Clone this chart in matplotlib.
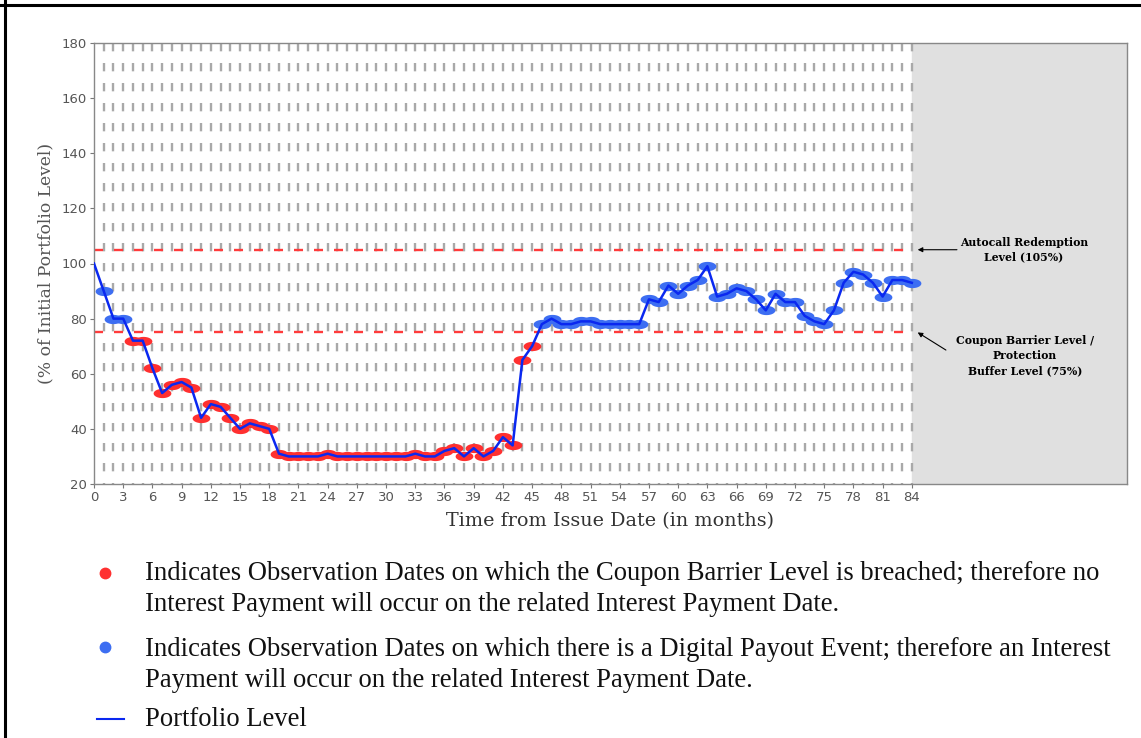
import numpy as np
import matplotlib
matplotlib.use('Agg')
import matplotlib.pyplot as plt
from matplotlib.path import Path
from matplotlib.lines import Line2D

# monthly portfolio level (% of initial), months 0..84
months = list(range(0, 85))
level = [100, 90, 80, 80, 72, 72, 62, 53, 56, 57, 55, 44, 49, 48, 44, 40, 42, 41, 40, 31,
         30, 30, 30, 30, 31, 30, 30, 30, 30, 30, 30, 30, 30, 31, 30, 30, 32, 33, 30, 33,
         30, 32, 37, 34, 65, 70, 78, 80, 78, 78, 79, 79, 78, 78, 78, 78, 78, 87, 86, 92,
         89, 92, 94, 99, 88, 89, 91, 90, 87, 83, 89, 86, 86, 81, 79, 78, 83, 93, 97, 96,
         93, 88, 94, 94, 93]
autocall_level = 105
barrier_level = 75
xticks = list(range(0, 85, 3))
yticks = list(range(20, 181, 20))

legend_red = ("Indicates Observation Dates on which the Coupon Barrier Level is breached; therefore no\n"
              "Interest Payment will occur on the related Interest Payment Date.")
legend_blue = ("Indicates Observation Dates on which there is a Digital Payout Event; therefore an Interest\n"
               "Payment will occur on the related Interest Payment Date.")
legend_line = "Portfolio Level"

plt.rcParams['lines.scale_dashes'] = False

fig = plt.figure(figsize=(11.41, 7.38), dpi=100)
ax = fig.add_axes([94 / 1141, 1 - 484 / 738, (1127 - 94) / 1141, (484 - 43) / 738])
ax.set_xlim(0, 106.1)
ax.set_ylim(20, 180)

# shaded area after maturity
ax.axvspan(84, 106.1, color='#e0e0e0', zorder=0)

# monthly observation grid
for m in months[1:]:
    ax.plot([m, m], [180, 20], color='#a9a9a9', lw=1.7, dashes=(6.0, 8.4), zorder=1)

# barrier lines
for lv in (autocall_level, barrier_level):
    ax.plot([0, 84], [lv, lv], color='#ff3b3b', lw=1.7, dashes=(6.5, 7.9), zorder=2)

# elliptical markers
t = np.linspace(0, 2 * np.pi, 40)
ellipse = Path(np.column_stack([np.cos(t), 0.52 * np.sin(t)]), closed=True)

obs_m = np.array(months[1:])
obs_v = np.array(level[1:])
red = obs_v < barrier_level
ax.plot(obs_m[red], obs_v[red], ls='none', marker=ellipse, ms=12.8, mfc='#ff3030', mec='none', zorder=3)
ax.plot(obs_m[~red], obs_v[~red], ls='none', marker=ellipse, ms=12.8, mfc='#3d6ef2', mec='none', zorder=3)

ax.plot(months, level, color='#0a28f0', lw=1.8, zorder=4)

ax.set_xticks(xticks)
ax.set_yticks(yticks)
ax.tick_params(colors='#777777', labelcolor='#555555', labelsize=9.5, length=3, pad=2)
for s in ax.spines.values():
    s.set_color('#888888')
    s.set_linewidth(1)

ax.set_xlabel('Time from Issue Date (in months)', family='DejaVu Serif', fontsize=13.8,
              color='#333333', labelpad=6)
ax.set_ylabel('(% of Initial Portfolio Level)', family='DejaVu Serif', fontsize=12.3,
              color='#555555', labelpad=5)

# annotations
ax.annotate('Autocall Redemption\nLevel (105%)', xy=(84.6, autocall_level), xytext=(95.5, autocall_level),
            fontsize=7.8, fontweight='bold', family='DejaVu Serif', ha='center', va='center',
            linespacing=1.45, arrowprops=dict(arrowstyle='-|>', color='black', lw=0.8,
                                              shrinkA=43, shrinkB=0, mutation_scale=7))
ax.annotate('', xy=(84.6, barrier_level), xytext=(87.5, 68.6),
            arrowprops=dict(arrowstyle='-|>', color='black', lw=0.8, shrinkA=0, shrinkB=0,
                            mutation_scale=7))
ax.text(95.6, 66.6, 'Coupon Barrier Level /\nProtection\nBuffer Level (75%)', fontsize=7.8,
        fontweight='bold', family='DejaVu Serif', ha='center', va='center', linespacing=1.45)

# legend block below the chart
tfont = dict(family='Liberation Serif', fontsize=19.2, color='#111111', va='center', ha='left',
             transform=fig.transFigure, linespacing=1.28)
fig.text(145 / 1141, 1 - 589 / 738, legend_red, **tfont)
fig.text(145 / 1141, 1 - 665 / 738, legend_blue, **tfont)
fig.text(145 / 1141, 1 - 719 / 738, legend_line, **tfont)
fig.add_artist(Line2D([105 / 1141], [1 - 573 / 738], marker='o', ms=7.5, color='#ff3030', ls='none'))
fig.add_artist(Line2D([105 / 1141], [1 - 647 / 738], marker='o', ms=7.5, color='#3d6ef2', ls='none'))
fig.add_artist(Line2D([97 / 1141, 124 / 1141], [1 - 719 / 738] * 2, color='#0a28f0', lw=1.5))

# page frame (top and left)
fig.add_artist(Line2D([0, 1], [1 - 5 / 738] * 2, color='black', lw=2.2))
fig.add_artist(Line2D([5 / 1141] * 2, [0, 1], color='black', lw=2.2))

fig.savefig('out.png', dpi=100)
